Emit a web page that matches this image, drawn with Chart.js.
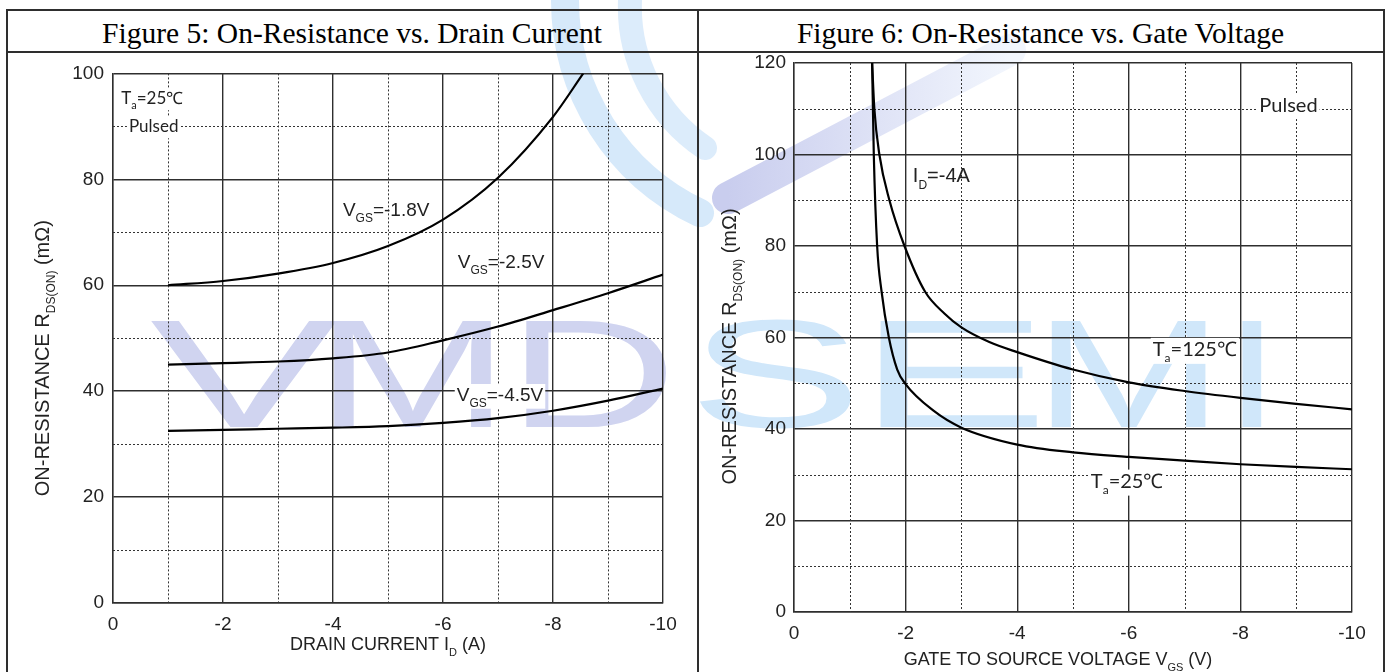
<!DOCTYPE html>
<html>
<head>
<meta charset="utf-8">
<script src="https://cdn.jsdelivr.net/npm/chart.js@4.4.0/dist/chart.umd.min.js"></script>
<style>
body { margin: 0; background: #fff; width: 1391px; height: 672px; overflow: hidden; position: relative; }
.deco { position: absolute; left: 0; top: 0; }
.wm { position: absolute; top: 297px; font-family: "Liberation Sans", Arial, sans-serif; font-size: 154px; line-height: 1; transform-origin: 0 0; }
.vmd { color: #d0d4f0; }
.semi { color: #d0e7fa; }
.rule { position: absolute; background: #2e2e2e; }
.title { position: absolute; top: 12px; height: 42px; line-height: 42px; text-align: center; font-family: "Liberation Serif", "Times New Roman", serif; font-size: 29.5px; color: #000; }
canvas { position: absolute; }
</style>
</head>
<body>
<!-- faint logo bands behind the charts -->
<svg class="deco" width="1391" height="672">
  <defs>
    <linearGradient id="band" x1="728" y1="0" x2="1010" y2="0" gradientUnits="userSpaceOnUse">
      <stop offset="0" stop-color="#c9cdee"/>
      <stop offset="1" stop-color="#f2f6fd"/>
    </linearGradient>
  </defs>
  <path d="M565,0 A235,235 0 0,0 700,213" fill="none" stroke="#d6e9fa" stroke-width="28" stroke-linecap="round"/>
  <path d="M630,0 A170,170 0 0,0 705,148" fill="none" stroke="#dcecfb" stroke-width="24" stroke-linecap="round"/>
  <path d="M1010,50 L728,198" fill="none" stroke="url(#band)" stroke-width="32" stroke-linecap="round"/>
</svg>

<span class="wm vmd" style="left:150px;transform:scaleX(1.83)">V</span>
<span class="wm vmd" style="left:315px;transform:scaleX(1.52)">M</span>
<span class="wm vmd" style="left:507px;transform:scaleX(1.53)">D</span>
<span class="wm semi" style="left:688px;transform:scaleX(1.7)">S</span>
<span class="wm semi" style="left:857px;transform:scaleX(1.87)">E</span>
<span class="wm semi" style="left:1033px;transform:scaleX(1.49)">M</span>
<span class="wm semi" style="left:1224px;transform:scaleX(1.3)">I</span>

<div class="rule" style="left:6px;top:9px;width:1378px;height:1.5px"></div>
<div class="rule" style="left:6px;top:51px;width:1378px;height:1.5px"></div>
<div class="rule" style="left:6px;top:9px;width:1.5px;height:663px"></div>
<div class="rule" style="left:697px;top:9px;width:1.5px;height:663px"></div>
<div class="rule" style="left:1383px;top:9px;width:1.5px;height:663px"></div>

<div class="title" style="left:7px;width:690px">Figure 5: On-Resistance vs. Drain Current</div>
<div class="title" style="left:698px;width:685px">Figure 6: On-Resistance vs. Gate Voltage</div>

<canvas id="fig5" width="690" height="619" style="left:7px;top:53px"></canvas>
<canvas id="fig6" width="685" height="639" style="left:698px;top:33px"></canvas>

<script>
// Figure 5: RDS(on) vs drain current, three gate voltages
const vgs18X = [-1, -2, -3, -4, -5, -6, -7, -8, -8.55];
const vgs18R = [60, 60.8, 62.2, 64.2, 67.4, 72.4, 80.3, 91.8, 100];
const vgs25X = [-1, -2, -3, -4, -5, -6, -7, -8, -9, -10];
const vgs25R = [45, 45.3, 45.6, 46.2, 47.3, 49.6, 52.2, 55.3, 58.5, 62];
const vgs45X = [-1, -2, -3, -4, -5, -6, -7, -8, -9, -10];
const vgs45R = [32.5, 32.7, 32.9, 33.1, 33.4, 34, 34.9, 36.3, 38.2, 40.5];

// Figure 6: RDS(on) vs gate voltage, ID = -4A
const t25X = [-1.40, -1.43, -1.49, -1.57, -1.70, -1.85, -2, -2.5, -3, -4, -5, -6, -7, -8, -9, -10];
const t25R = [120, 100, 80, 70, 60, 53, 49.8, 44, 40.3, 36.6, 34.9, 33.9, 33.1, 32.3, 31.7, 31.2];
const t125X = [-1.40, -1.44, -1.53, -1.71, -1.98, -2.35, -2.7, -3, -3.5, -4, -5, -6, -7, -8, -9, -10];
const t125R = [120, 110, 100, 90, 80, 70, 65.2, 62.2, 59, 56.8, 53, 50.2, 48.3, 46.8, 45.5, 44.3];

// dotted minor grid positions
const minorX = [-1, -3, -5, -7, -9];
const fig5MinorY = [10, 30, 50, 70, 90];
const fig6MinorY = [10, 30, 50, 70, 90, 110];

const ARIAL = '"Liberation Sans", Arial, sans-serif';
const CALI = 'Lato, "Open Sans", sans-serif';
const INK = '#222';

function parse(s) {
    return s.split(/(_\{[^}]*\})/).filter(Boolean).map(t =>
        t.startsWith('_{') ? { t: t.slice(2, -1), sub: true } : { t: t, sub: false });
}

function drawRich(ctx, text, x, y, size, family, align, bg) {
    const parts = parse(text);
    const subSize = Math.round(size * 0.62);
    let w = 0;
    parts.forEach(p => {
        ctx.font = (p.sub ? subSize : size) + 'px ' + family;
        p.w = ctx.measureText(p.t).width;
        w += p.w;
    });
    let cx = align === 'center' ? x - w / 2 : x;
    if (bg) {
        ctx.fillStyle = '#fff';
        ctx.fillRect(cx - 2, y - size * 0.6, w + 4, size * 1.3);
    }
    ctx.fillStyle = INK;
    ctx.textBaseline = 'middle';
    ctx.textAlign = 'left';
    parts.forEach(p => {
        ctx.font = (p.sub ? subSize : size) + 'px ' + family;
        ctx.fillText(p.t, cx, p.sub ? y + size * 0.42 : y);
        cx += p.w;
    });
}

const minorGrid = {
    id: 'minorGrid',
    beforeDatasetsDraw(chart, args, opts) {
        const { ctx, chartArea: a, scales: { x, y } } = chart;
        ctx.save();
        ctx.strokeStyle = '#333';
        ctx.lineWidth = 1;
        ctx.setLineDash([2, 2]);
        ctx.beginPath();
        opts.xs.forEach(v => {
            const p = Math.round(x.getPixelForValue(v)) + 0.5;
            ctx.moveTo(p, a.top); ctx.lineTo(p, a.bottom);
        });
        opts.ys.forEach(v => {
            const p = Math.round(y.getPixelForValue(v)) + 0.5;
            ctx.moveTo(a.left, p); ctx.lineTo(a.right, p);
        });
        ctx.stroke();
        ctx.restore();
    }
};

const notes = {
    id: 'notes',
    afterDatasetsDraw(chart, args, opts) {
        const { ctx, chartArea: a, scales: { x, y } } = chart;
        ctx.save();
        opts.labels.forEach(l => {
            drawRich(ctx, l.text, x.getPixelForValue(l.x), y.getPixelForValue(l.y), l.size, l.font, 'left', l.bg);
        });
        const xt = opts.xTitle;
        drawRich(ctx, xt.text, (a.left + a.right) / 2 + xt.dx, a.bottom + xt.dy, 18, ARIAL, 'center', false);
        const yt = opts.yTitle;
        ctx.translate(a.left + yt.dx, (a.top + a.bottom) / 2 + yt.dy);
        ctx.rotate(-Math.PI / 2);
        drawRich(ctx, yt.text, 0, 0, 20, ARIAL, 'center', false);
        ctx.restore();
    }
};

function line(xs, ys) {
    return {
        data: xs.map((v, i) => ({ x: v, y: ys[i] })),
        borderColor: '#000',
        borderWidth: 2.2,
        pointRadius: 0,
        fill: false,
        cubicInterpolationMode: 'monotone'
    };
}

function makeChart(id, datasets, cfg) {
    return new Chart(document.getElementById(id), {
        type: 'line',
        data: { datasets: datasets },
        options: {
            responsive: false,
            animation: false,
            events: [],
            devicePixelRatio: 1,
            layout: { padding: cfg.padding },
            scales: {
                x: {
                    type: 'linear', min: -10, max: 0, reverse: true,
                    afterFit: s => { s.height = cfg.xHeight; },
                    grid: { color: '#2e2e2e', lineWidth: 1.4, drawTicks: false },
                    border: { color: '#2e2e2e', width: 1.4 },
                    ticks: { stepSize: 2, padding: 10, color: INK, font: { size: 19 }, callback: v => String(v) }
                },
                y: {
                    min: 0, max: cfg.yMax,
                    afterFit: s => { s.width = cfg.yWidth; },
                    grid: { color: '#2e2e2e', lineWidth: 1.4, drawTicks: false },
                    border: { color: '#2e2e2e', width: 1.4 },
                    ticks: { stepSize: 20, padding: cfg.yPad, color: INK, font: { size: 19 } }
                }
            },
            plugins: {
                legend: { display: false },
                tooltip: { enabled: false },
                minorGrid: { xs: minorX, ys: cfg.minorY },
                notes: cfg.notes
            }
        },
        plugins: [minorGrid, notes]
    });
}

Chart.defaults.font.family = ARIAL;

makeChart('fig5', [line(vgs18X, vgs18R), line(vgs25X, vgs25R), line(vgs45X, vgs45R)], {
    padding: { top: 20, right: 34, left: 0, bottom: 0 },
    xHeight: 69, yWidth: 106, yPad: 9, yMax: 100, minorY: fig5MinorY,
    notes: {
        labels: [
            { text: 'T_{a}=25℃', x: -0.15, y: 95.3, size: 17, font: CALI, bg: true },
            { text: 'Pulsed', x: -0.29, y: 90, size: 17, font: CALI, bg: true },
            { text: 'V_{GS}=-1.8V', x: -4.18, y: 74, size: 19, font: ARIAL, bg: false },
            { text: 'V_{GS}=-2.5V', x: -6.27, y: 64.2, size: 19, font: ARIAL, bg: false },
            { text: 'V_{GS}=-4.5V', x: -6.25, y: 39.2, size: 19, font: ARIAL, bg: true }
        ],
        xTitle: { text: 'DRAIN CURRENT I_{D} (A)', dx: 0, dy: 42 },
        yTitle: { text: 'ON-RESISTANCE R_{DS(ON)} (mΩ)', dx: -70, dy: 20 }
    }
});

makeChart('fig6', [line(t25X, t25R), line(t125X, t125R)], {
    padding: { top: 30, right: 31, left: 0, bottom: 0 },
    xHeight: 60, yWidth: 96, yPad: 8, yMax: 120, minorY: fig6MinorY,
    notes: {
        labels: [
            { text: 'I_{D}=-4A', x: -2.13, y: 95.1, size: 20, font: ARIAL, bg: false },
            { text: 'Pulsed', x: -8.34, y: 110.8, size: 20, font: CALI, bg: true },
            { text: 'T_{a}=125℃', x: -6.43, y: 57.3, size: 20, font: CALI, bg: true },
            { text: 'T_{a}=25℃', x: -5.32, y: 28.5, size: 20, font: CALI, bg: true }
        ],
        xTitle: { text: 'GATE TO SOURCE VOLTAGE V_{GS} (V)', dx: -15, dy: 48 },
        yTitle: { text: 'ON-RESISTANCE R_{DS(ON)} (mΩ)', dx: -64, dy: 9 }
    }
});
</script>
</body>
</html>
